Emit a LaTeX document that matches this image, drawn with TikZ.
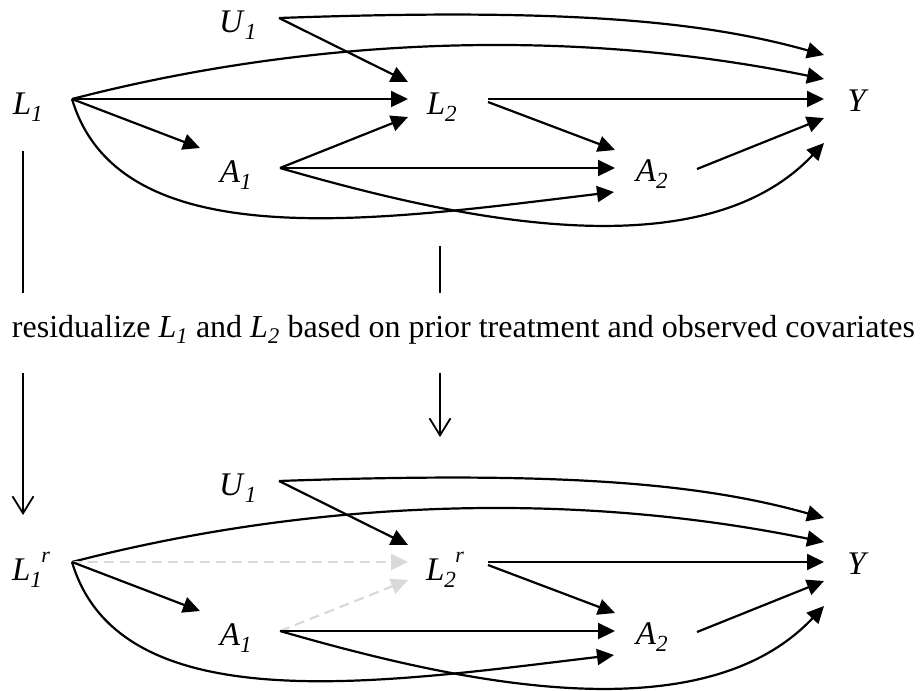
\documentclass[tikz,border=0pt]{standalone}
\usepackage{fontspec}
\usepackage{amsmath}
\setmainfont{Liberation Serif}
\usetikzlibrary{arrows.meta,calc}
\definecolor{ghostgray}{RGB}{217,217,217}
\newcommand\vs[2]{\textit{#1}$_{\text{\itshape #2}}$}
\newcommand\vsr[2]{\textit{#1}$_{\text{\itshape #2}}$\kern-1pt\raisebox{0.55em}{\fontsize{22}{24}\selectfont\itshape r}}
\begin{document}
\begin{tikzpicture}[x=1pt,y=-1pt,
  lab/.style={font=\fontsize{33}{39}\selectfont, inner sep=0pt},
  arr/.style={line width=2.2pt, -{Triangle[length=17pt,width=16pt]}},
  ghost/.style={line width=2.2pt, draw=ghostgray, dash pattern=on 10pt off 6pt, -{Triangle[length=17pt,width=16pt,fill=ghostgray]}},
  link/.style={line width=1.8pt},
  linkarr/.style={line width=1.8pt, -{Straight Barb[length=17pt,width=21pt]}}]
\useasboundingbox (0,0) rectangle (922,691);

% ---------- top diagram ----------
\node[lab] (U1) at (238,25) {\vs{U}{1}};
\node[lab] (L1) at (28,107) {\vs{L}{1}};
\node[lab] (L2) at (442,107) {\vs{L}{2}};
\node[lab] (A1) at (236,175) {\vs{A}{1}};
\node[lab] (A2) at (652,174) {\vs{A}{2}};
\node[lab] (Y) at (858,101) {\textit{Y}};

\draw[arr] ($(U1)+(41,-7)$) .. controls (560,8) and (700,20) .. ($(Y)+(-34,-46)$);
\draw[arr] ($(L1)+(44,-8)$) .. controls (300,40) and (560,25) .. ($(Y)+(-34,-22)$);
\draw[arr] ($(U1)+(41,-7)$) -- ($(L2)+(-34,-25)$);
\draw[arr] ($(L1)+(44,-8)$) -- ($(L2)+(-34,-8)$);
\draw[arr] ($(A1)+(44,-7)$) -- ($(L2)+(-34,10)$);
\draw[arr] ($(L1)+(44,-8)$) -- ($(A1)+(-36,-27)$);
\draw[arr] ($(A1)+(44,-7)$) -- ($(A2)+(-37,-6)$);
\draw[arr] ($(L1)+(44,-8)$) .. controls (120,260) and (380,220) .. ($(A2)+(-38,18)$);
\draw[arr] ($(A1)+(44,-7)$) .. controls (450,217) and (700,275) .. ($(Y)+(-34,42)$);
\draw[arr] ($(L2)+(46,-8)$) -- ($(Y)+(-34,-2)$);
\draw[arr] ($(L2)+(46,-5)$) -- ($(A2)+(-37,-24)$);
\draw[arr] ($(A2)+(45,-5)$) -- ($(Y)+(-34,17)$);

% ---------- middle text ----------
\node[font=\fontsize{32}{38}\selectfont, anchor=base, inner sep=0pt] (res) at (463.5,337)
  {residualize \vs{L}{1} and \vs{L}{2} based on prior treatment and observed covariates};

% ---------- bottom diagram ----------
\begin{scope}[yshift=-463pt]
\node[lab] (U1b) at (238,25) {\vs{U}{1}};
\node[lab] (L1b) at (31,107) {\vsr{L}{1}};
\node[lab] (L2b) at (445,107) {\vsr{L}{2}};
\node[lab] (A1b) at (236,175) {\vs{A}{1}};
\node[lab] (A2b) at (652,174) {\vs{A}{2}};
\node[lab] (Yb) at (858,101) {\textit{Y}};

\draw[arr] ($(U1b)+(41,-7)$) .. controls (560,8) and (700,20) .. ($(Yb)+(-34,-46)$);
\draw[arr] ($(L1b)+(41,-8)$) .. controls (300,40) and (560,25) .. ($(Yb)+(-34,-22)$);
\draw[arr] ($(U1b)+(41,-7)$) -- ($(L2b)+(-37,-25)$);
\draw[ghost] ($(L1b)+(41,-8)$) -- ($(L2b)+(-37,-8)$);
\draw[ghost] ($(A1b)+(44,-7)$) -- ($(L2b)+(-37,10)$);
\draw[arr] ($(L1b)+(41,-8)$) -- ($(A1b)+(-36,-27)$);
\draw[arr] ($(A1b)+(44,-7)$) -- ($(A2b)+(-37,-6)$);
\draw[arr] ($(L1b)+(41,-8)$) .. controls (120,260) and (380,220) .. ($(A2b)+(-38,18)$);
\draw[arr] ($(A1b)+(44,-7)$) .. controls (450,217) and (700,275) .. ($(Yb)+(-34,42)$);
\draw[arr] ($(L2b)+(43,-8)$) -- ($(Yb)+(-34,-2)$);
\draw[arr] ($(L2b)+(43,-5)$) -- ($(A2b)+(-37,-24)$);
\draw[arr] ($(A2b)+(45,-5)$) -- ($(Yb)+(-34,17)$);
\end{scope}

% ---------- links through the text ----------
\draw[link] ($(L1)+(-5,44)$) -- ($(L1)+(-5,186)$);
\draw[linkarr] ($(L1b)+(-8,-197)$) -- ($(L1b)+(-8,-55)$);
\draw[link] ($(L2)+(-2,139)$) -- ($(L2)+(-2,186)$);
\draw[linkarr] ($(L2b)+(-5,-197)$) -- ($(L2b)+(-5,-133)$);
\end{tikzpicture}
\end{document}
